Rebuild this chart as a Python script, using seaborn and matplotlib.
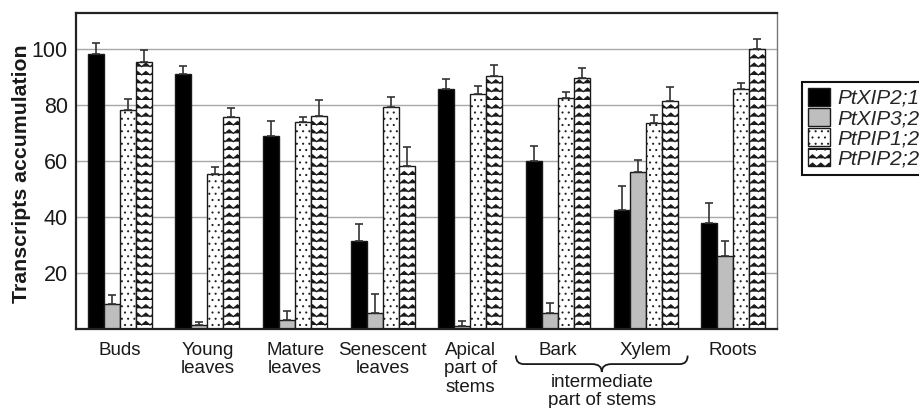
import warnings
import numpy as np
import pandas as pd
import matplotlib
matplotlib.use("Agg")
import matplotlib.pyplot as plt
import matplotlib.hatch as mhatch
from matplotlib.path import Path
from matplotlib.patches import PathPatch
import seaborn as sns

warnings.filterwarnings("ignore")

tissues = ["Buds", "Young\nleaves", "Mature\nleaves", "Senescent\nleaves",
           "Apical\npart of\nstems", "Bark", "Xylem", "Roots"]
genes = ["PtXIP2;1", "PtXIP3;2", "PtPIP1;2", "PtPIP2;2"]

xip21 = [98.3, 91.1, 69.0, 31.5, 85.7, 60.1, 42.4, 38.0]
xip21_err = [3.8, 3.1, 5.4, 5.9, 3.6, 5.4, 8.7, 7.2]
xip32 = [8.8, 1.4, 3.2, 5.6, 1.2, 5.8, 56.3, 26.0]
xip32_err = [3.3, 1.1, 3.3, 6.8, 1.7, 3.6, 4.3, 5.5]
pip12 = [78.3, 55.4, 74.0, 79.4, 84.2, 82.6, 73.8, 86.0]
pip12_err = [3.8, 2.5, 1.8, 3.5, 2.8, 2.2, 2.7, 2.1]
pip22 = [95.6, 75.7, 76.2, 58.2, 90.4, 89.8, 81.5, 100.0]
pip22_err = [4.3, 3.2, 5.8, 7.0, 4.1, 3.6, 5.2, 3.6]

values = [xip21, xip32, pip12, pip22]
errors = [xip21_err, xip32_err, pip12_err, pip22_err]
colors = ["#000000", "#bebebe", "#ffffff", "#ffffff"]
hatches = ["", "", "d", "z"]


# custom hatch patterns: 'd' = sparse dots, 'z' = rows of small chevrons
class DotHatch(mhatch.Circles):
    size = 0.07
    filled = True

    def __init__(self, hatch, density):
        self.num_rows = 16 if "d" in hatch else 0
        super().__init__(hatch, density)


class ZigzagHatch(mhatch.HatchPatternBase):
    def __init__(self, hatch, density):
        self.rows = 12 if "z" in hatch else 0
        self.teeth = 12
        self.num_vertices = self.rows * (2 * self.teeth + 1)

    def set_vertices_and_codes(self, vertices, codes):
        n = 2 * self.teeth + 1
        xs = np.linspace(0, 1, n)
        bump = (np.arange(n) % 2 == 1) * (0.42 / self.rows)
        for r in range(self.rows):
            sl = slice(r * n, (r + 1) * n)
            vertices[sl, 0] = xs
            vertices[sl, 1] = r / self.rows + bump
            codes[r * n] = Path.MOVETO
            codes[r * n + 1:(r + 1) * n] = Path.LINETO


mhatch._hatch_types.extend([DotHatch, ZigzagHatch])

df = pd.DataFrame({
    "tissue": np.tile(tissues, len(genes)),
    "gene": np.repeat(genes, len(tissues)),
    "value": np.concatenate(values),
})

sns.set_theme(style="white")
plt.rcParams["font.family"] = ["Liberation Sans", "DejaVu Sans"]
plt.rcParams["hatch.linewidth"] = 0.9

fig = plt.figure(figsize=(9.2, 4.08), dpi=100)
ax = fig.add_axes([0.0826, 0.1936, 0.762, 0.7745])

sns.barplot(data=df, x="tissue", y="value", hue="gene", order=tissues,
            hue_order=genes, palette=colors, saturation=1, width=0.73,
            edgecolor="#1a1a1a", linewidth=1.0, errorbar=None, legend=False,
            ax=ax)

for cont, h, err in zip(ax.containers, hatches, errors):
    xs, ys = [], []
    for p in cont.patches:
        p.set_hatch(h)
        xs.append(p.get_x() + p.get_width() / 2)
        ys.append(p.get_height())
    ax.errorbar(xs, ys, yerr=[np.zeros(len(err)), err], fmt="none",
                ecolor="#333333", elinewidth=1.2, capsize=2.8, capthick=1.2,
                zorder=1)

ax.set_ylim(0, 113)
ax.set_xlim(-0.5, len(tissues) - 0.5)
ax.set_yticks([20, 40, 60, 80, 100])
ax.yaxis.grid(True, color="#a8a8a8", linewidth=1.0)
ax.set_axisbelow(True)
ax.tick_params(axis="y", length=0, pad=6, labelsize=15.5, colors="#1a1a1a")
ax.set_xticks(range(len(tissues)))
ax.set_xticklabels(tissues, fontsize=13.5, linespacing=1.12)
ax.tick_params(axis="x", which="major", length=0, pad=9, colors="#1a1a1a")
ax.set_xticks(np.arange(len(tissues) + 1) - 0.5, minor=True)
ax.tick_params(axis="x", which="minor", direction="inout", length=6,
               width=1.0, color="#333333")
ax.set_xlabel("")
ax.set_ylabel("Transcripts accumulation", fontsize=15.3, fontweight="bold",
              color="#1a1a1a")
ax.yaxis.set_label_coords(-0.064, 0.49)

for side in ["top", "left", "bottom"]:
    ax.spines[side].set_color("#222222")
    ax.spines[side].set_linewidth(1.6)
ax.spines["right"].set_color("#777777")
ax.spines["right"].set_linewidth(1.0)

# brace under Bark and Xylem
i0, i1 = tissues.index("Bark"), tissues.index("Xylem")
left, right, mid = i0 - 0.5, i1 + 0.5, (i0 + i1) / 2
y_top, y_mid, y_bot = -0.084, -0.111, -0.136
r = 0.11
verts = [(left + 0.02, y_top), (left + 0.02, y_mid), (left + r, y_mid),
         (mid - r, y_mid), (mid, y_mid), (mid, y_bot),
         (mid, y_mid), (mid + r, y_mid),
         (right - r, y_mid), (right - 0.02, y_mid), (right - 0.02, y_top)]
codes = [Path.MOVETO, Path.CURVE3, Path.CURVE3,
         Path.LINETO, Path.CURVE3, Path.CURVE3,
         Path.CURVE3, Path.CURVE3,
         Path.LINETO, Path.CURVE3, Path.CURVE3]
ax.add_patch(PathPatch(Path(verts, codes), transform=ax.get_xaxis_transform(),
                       fill=False, edgecolor="#1a1a1a", linewidth=1.3,
                       clip_on=False))
ax.text(mid, -0.142, "intermediate\npart of stems",
        transform=ax.get_xaxis_transform(), ha="center", va="top",
        fontsize=13.5, linespacing=1.12, color="#1a1a1a")

leg = fig.legend(handles=ax.containers, labels=genes, loc="upper left",
                 bbox_to_anchor=(0.872, 0.80), frameon=True, fancybox=False,
                 framealpha=1, edgecolor="#111111", borderpad=0.3,
                 handlelength=1.05, handleheight=0.95, handletextpad=0.35,
                 labelspacing=0.0, borderaxespad=0,
                 prop={"size": 15, "style": "italic"})
leg.get_frame().set_linewidth(1.5)

fig.savefig("out.png", dpi=100, facecolor="white")
